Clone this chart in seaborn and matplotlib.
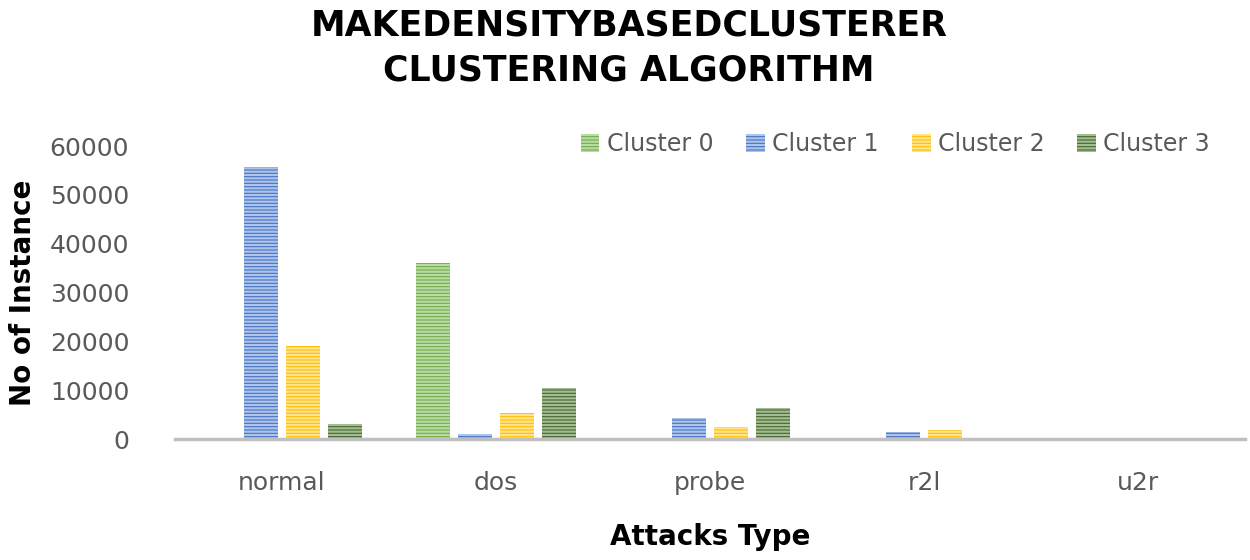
import pandas as pd
import matplotlib
matplotlib.use("Agg")
import matplotlib.pyplot as plt
import seaborn as sns
from matplotlib.patches import Patch

# data
attacks = ["normal", "dos", "probe", "r2l", "u2r"]
clusters = ["Cluster 0", "Cluster 1", "Cluster 2", "Cluster 3"]
cluster0 = [0, 36100, 0, 0, 0]
cluster1 = [55700, 1000, 4400, 1400, 0]
cluster2 = [19000, 5300, 2400, 1900, 0]
cluster3 = [3100, 10500, 6400, 0, 0]

colors = ["#70AD47", "#4472C4", "#FFC000", "#43682B"]
hatch_colors = ["#B9DBA4", "#AFC4EA", "#FFE38F", "#A3BC93"]

rows = []
for name, vals in zip(clusters, [cluster0, cluster1, cluster2, cluster3]):
    for a, v in zip(attacks, vals):
        rows.append({"Attack": a, "Cluster": name, "Count": v})
df = pd.DataFrame(rows)

sns.set_style("white")
plt.rcParams["font.family"] = ["DejaVu Sans"]
plt.rcParams["hatch.linewidth"] = 1.6

fig = plt.figure(figsize=(12.5, 5.6), dpi=100)
ax = fig.add_axes([0.14, 0.216, 0.856, 0.523])

sns.barplot(data=df, x="Attack", y="Count", hue="Cluster", order=attacks,
            hue_order=clusters, palette=colors, width=0.785, gap=0.19,
            saturation=1, ax=ax, legend=False)

for cont, hc in zip(ax.containers, hatch_colors):
    for bar in cont:
        bar.set_hatch("-----")
        bar.set_edgecolor(hc)
        bar.set_linewidth(0)

ax.set_xlim(-0.5, 4.5)
ax.set_ylim(0, 60000)
ax.set_yticks(range(0, 60001, 10000))
sns.despine(ax=ax, left=True, top=True, right=True)
ax.spines["bottom"].set_color("#BFBFBF")
ax.spines["bottom"].set_linewidth(2.5)
ax.tick_params(axis="y", length=0, pad=33, labelsize=18, labelcolor="#595959")
ax.tick_params(axis="x", length=0, pad=23, labelsize=18, labelcolor="#595959")
ax.grid(False)

ax.set_xlabel("Attacks Type", fontsize=20, fontweight="bold", labelpad=20,
              color="black")
ax.set_ylabel("No of Instance", fontsize=20, fontweight="bold", labelpad=9,
              color="black")

fig.text(0.503, 0.985, "MAKEDENSITYBASEDCLUSTERER\nCLUSTERING ALGORITHM",
         ha="center", va="top", fontsize=25, fontweight="bold",
         linespacing=1.4, color="black")

handles = [Patch(facecolor=c, edgecolor=hc, hatch="-----", linewidth=0)
           for c, hc in zip(colors, hatch_colors)]
fig.legend(handles, clusters, loc="center right", bbox_to_anchor=(0.985, 0.743),
           ncol=4, frameon=False, fontsize=17, labelcolor="#595959",
           handlelength=0.8, handleheight=0.8, handletextpad=0.3,
           columnspacing=1.4)

fig.savefig("out.png", dpi=100)
